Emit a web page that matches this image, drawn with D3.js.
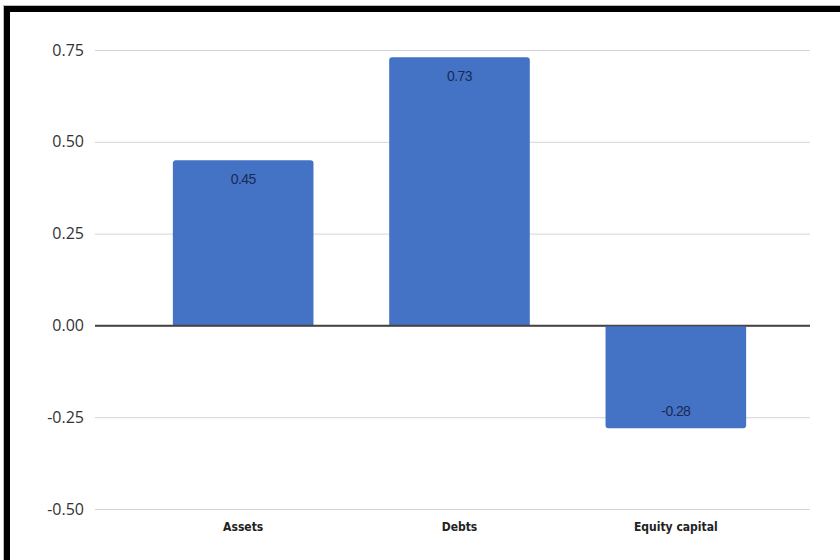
<!DOCTYPE html>
<html>
<head>
<meta charset="utf-8">
<script src="https://cdn.jsdelivr.net/npm/d3@7"></script>
<style>
  body { margin: 0; background: #fff; }
  svg { display: block; }
</style>
</head>
<body>
<div id="chart"></div>
<script>
// data
var categories = ["Assets", "Debts", "Equity capital"];
var values = [0.45, 0.73, -0.28];
var yTicks = [0.75, 0.50, 0.25, 0.00, -0.25, -0.50];

var W = 840, H = 560;

var svg = d3.select("#chart")
  .append("svg")
    .attr("width", W)
    .attr("height", H);

// frame (black border, top and left)
svg.append("line")
  .attr("x1", 3).attr("x2", W).attr("y1", 5.5).attr("y2", 5.5)
  .attr("stroke", "#bbb");
svg.append("line")
  .attr("x1", 3.5).attr("x2", 3.5).attr("y1", 6).attr("y2", H)
  .attr("stroke", "#bbb");
svg.append("rect")
  .attr("x", 4).attr("y", 6).attr("width", W - 4).attr("height", 6)
  .attr("fill", "#000");
svg.append("rect")
  .attr("x", 4).attr("y", 6).attr("width", 6).attr("height", H - 6)
  .attr("fill", "#000");

// scales
var y = d3.scaleLinear()
  .domain([-0.5, 0.75])
  .range([509, 50]);

var x = d3.scaleBand()
  .domain(categories)
  .range([135, 784])
  .paddingInner(0.35)
  .paddingOuter(0.175);

// gridlines + y labels (plain hyphen for negatives)
var yAxis = svg.append("g")
  .attr("transform", "translate(95,0)")
  .call(d3.axisLeft(y)
    .tickValues(yTicks)
    .tickSize(-715)
    .tickPadding(11)
    .tickFormat(function(d) { return d.toFixed(2); }));
yAxis.select(".domain").remove();
yAxis.selectAll(".tick line")
  .attr("stroke", function(d) { return d === 0 ? "#444" : "#d4d4d4"; })
  .attr("stroke-width", function(d) { return d === 0 ? 1.5 : 1; });
yAxis.selectAll(".tick text")
  .attr("fill", "#333")
  .style("font-family", "'Open Sans', 'Noto Sans', sans-serif")
  .style("font-size", "16px");

// bars with rounded outer corners
var r = 3;
function barPath(d, i) {
  var x0 = x(categories[i]), w = x.bandwidth();
  var y0 = y(0), y1 = y(d);
  var s = d >= 0 ? 1 : -1;
  return "M" + x0 + "," + y0 +
    "V" + (y1 + s * r) + "Q" + x0 + "," + y1 + " " + (x0 + r) + "," + y1 +
    "H" + (x0 + w - r) + "Q" + (x0 + w) + "," + y1 + " " + (x0 + w) + "," + (y1 + s * r) +
    "V" + y0 + "Z";
}

svg.selectAll("path.bar")
  .data(values)
  .enter()
  .append("path")
    .attr("class", "bar")
    .attr("d", barPath)
    .attr("fill", "#4472C4");

// zero line on top of bars
svg.append("line")
  .attr("x1", 95).attr("x2", 810)
  .attr("y1", y(0)).attr("y2", y(0))
  .attr("stroke", "#444")
  .attr("stroke-width", 1.5);

// value labels
svg.selectAll("text.val")
  .data(values)
  .enter()
  .append("text")
    .attr("class", "val")
    .attr("x", function(d, i) { return x(categories[i]) + x.bandwidth() / 2; })
    .attr("y", function(d) { return d >= 0 ? y(d) + 24 : y(d) - 12; })
    .attr("text-anchor", "middle")
    .attr("fill", "#1a2a55")
    .style("font-family", "'Liberation Sans', Arial, sans-serif")
    .style("font-size", "14px")
    .style("letter-spacing", "-0.6px")
    .text(function(d) { return d.toFixed(2); });

// category labels
svg.selectAll("text.cat")
  .data(categories)
  .enter()
  .append("text")
    .attr("class", "cat")
    .attr("x", function(d) { return x(d) + x.bandwidth() / 2; })
    .attr("y", 531)
    .attr("text-anchor", "middle")
    .attr("fill", "#222")
    .style("font-family", "'Liberation Sans Narrow', 'DejaVu Sans Condensed', sans-serif")
    .style("font-weight", "bold")
    .style("font-size", "12px")
    .text(function(d) { return d; });
</script>
</body>
</html>
